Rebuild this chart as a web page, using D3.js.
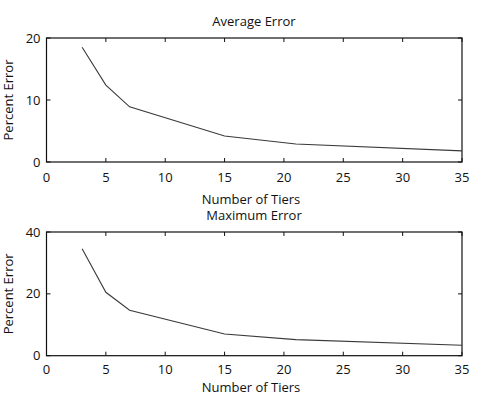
<!DOCTYPE html>
<html>
<head>
<meta charset="utf-8">
<script src="https://cdn.jsdelivr.net/npm/d3@7"></script>
<style>
  body { margin: 0; background: #fff; }
  svg text { font-family: "Open Sans", sans-serif; font-size: 13px; fill: #111; }
</style>
</head>
<body>
<div id="chart"></div>
<script>
var tiers = [3, 5, 7, 15, 21, 35];
var avgError = [18.5, 12.4, 8.9, 4.2, 2.9, 1.8];
var maxError = [34.6, 20.5, 14.7, 7.0, 5.2, 3.4];
var xTicks = [0, 5, 10, 15, 20, 25, 30, 35];
var avgTicks = [0, 10, 20];
var maxTicks = [0, 20, 40];

var W = 480, H = 400;
var svg = d3.select('#chart').append('svg').attr('width', W).attr('height', H);

function panel(opts) {
  var x = d3.scaleLinear().domain([0, 35]).range([46.5, 462]);
  var y = d3.scaleLinear().domain([0, opts.yMax]).range([opts.bottom, opts.top]);
  var g = svg.append('g');
  var tick = 4;

  // frame
  g.append('rect').attr('x', x(0)).attr('y', y(opts.yMax))
    .attr('width', x(35) - x(0)).attr('height', y(0) - y(opts.yMax))
    .attr('fill', 'none').attr('stroke', '#111').attr('stroke-width', 1.2);

  // inward ticks, matlab style
  xTicks.forEach(function(t) {
    g.append('line').attr('x1', x(t)).attr('x2', x(t)).attr('y1', y(0)).attr('y2', y(0) - tick).attr('stroke', '#111');
    g.append('line').attr('x1', x(t)).attr('x2', x(t)).attr('y1', y(opts.yMax)).attr('y2', y(opts.yMax) + tick).attr('stroke', '#111');
    g.append('text').attr('x', x(t)).attr('y', y(0) + opts.tickGap).attr('text-anchor', 'middle').text(t);
  });
  opts.yTicks.forEach(function(t) {
    g.append('line').attr('x1', x(0)).attr('x2', x(0) + tick).attr('y1', y(t)).attr('y2', y(t)).attr('stroke', '#111');
    g.append('line').attr('x1', x(35)).attr('x2', x(35) - tick).attr('y1', y(t)).attr('y2', y(t)).attr('stroke', '#111');
    g.append('text').attr('x', x(0) - 6).attr('y', y(t) + 4.5).attr('text-anchor', 'end').text(t);
  });

  var line = d3.line().x(function(d, i) { return x(tiers[i]); }).y(function(d) { return y(d); });
  g.append('path').datum(opts.values).attr('d', line)
    .attr('fill', 'none').attr('stroke', '#3a3a3a').attr('stroke-width', 1.1);

  g.append('text').attr('x', 254).attr('y', opts.titleY).attr('text-anchor', 'middle').text(opts.title);
  g.append('text').attr('x', 251).attr('y', opts.xLabelY).attr('text-anchor', 'middle').text('Number of Tiers');
  var cy = (opts.top + opts.bottom) / 2;
  g.append('text').attr('transform', 'translate(13,' + cy + ') rotate(-90)')
    .attr('text-anchor', 'middle').text('Percent Error');
}

panel({ title: 'Average Error', values: avgError, yMax: 20, yTicks: avgTicks,
        top: 38, bottom: 162, titleY: 26, xLabelY: 203.5, tickGap: 19.5 });
panel({ title: 'Maximum Error', values: maxError, yMax: 40, yTicks: maxTicks,
        top: 232, bottom: 355.7, titleY: 220, xLabelY: 392, tickGap: 17.8 });
</script>
</body>
</html>
